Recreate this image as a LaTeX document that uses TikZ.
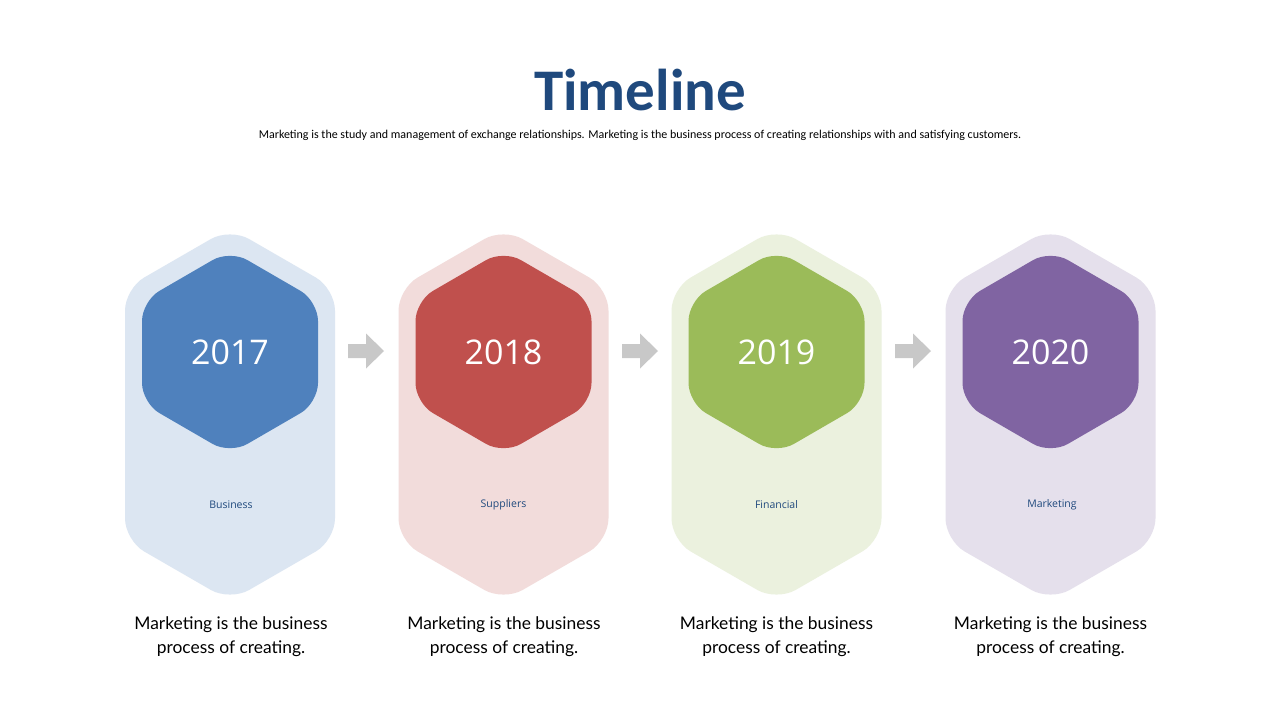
\documentclass[tikz,border=0pt]{standalone}
\usepackage{fontspec}
\setmainfont{Carlito}
\newfontfamily\latofont{Lato}
\newfontfamily\yearfont{Open Sans}
\definecolor{titleblue}{RGB}{31,73,125}
\definecolor{labelblue}{RGB}{31,73,125}
\definecolor{cA}{RGB}{79,129,189}
\definecolor{cAl}{RGB}{220,230,242}
\definecolor{cB}{RGB}{192,80,77}
\definecolor{cBl}{RGB}{242,220,219}
\definecolor{cC}{RGB}{155,187,89}
\definecolor{cCl}{RGB}{235,241,222}
\definecolor{cD}{RGB}{128,100,162}
\definecolor{cDl}{RGB}{229,224,236}
\definecolor{arrowgray}{RGB}{200,200,200}
\tikzset{
  yeartext/.style={text=white,font=\yearfont\fontsize{34}{38}\selectfont,inner sep=0},
  labeltext/.style={text=labelblue,font=\yearfont\fontsize{10.5}{12}\selectfont,inner sep=0},
  desctext/.style={text=black,font=\latofont\fontsize{17.4}{24}\selectfont,align=center,inner sep=0},
  blockarrow/.style={fill=arrowgray}
}
\newcommand{\outerhex}[2]{%
  \fill[#2,rounded corners=22pt] (#1-105,420) -- (#1-105,288.6) -- (#1,228) -- (#1+105,288.6)
    -- (#1+105,540.4) -- (#1,601) -- (#1-105,540.4) -- cycle;}
\newcommand{\innerhex}[2]{%
  \fill[#2,rounded corners=20pt] (#1-88,352) -- (#1-88,301) -- (#1,250) -- (#1+88,301)
    -- (#1+88,403) -- (#1,454) -- (#1-88,403) -- cycle;}
\newcommand{\blockarr}[2]{%
  \fill[blockarrow] (#1-18,#2-7) -- (#1,#2-7) -- (#1,#2-17.5) -- (#1+18,#2) -- (#1,#2+17.5)
    -- (#1,#2+7) -- (#1-18,#2+7) -- cycle;}
\begin{document}
\begin{tikzpicture}[x=1pt,y=-1pt]
\useasboundingbox (0,0) rectangle (1280,720);
\fill[white] (0,0) rectangle (1280,720);
\node[text=titleblue,font=\bfseries\fontsize{59}{62}\selectfont,inner sep=0] (title) at (640,90) {Timeline};
\node[font=\fontsize{12}{14}\selectfont,inner sep=0] (subtitle) at (640,135.5) {Marketing is the study and management of exchange relationships. Marketing is the business process of creating relationships with and satisfying customers.};
\outerhex{230}{cAl}
\outerhex{503.5}{cBl}
\outerhex{776.5}{cCl}
\outerhex{1050.5}{cDl}
\innerhex{230}{cA}
\innerhex{503.5}{cB}
\innerhex{776.5}{cC}
\innerhex{1050.5}{cD}
\node[yeartext] (y1) at (230,352) {2017};
\node[yeartext] (y2) at (503.5,352) {2018};
\node[yeartext] (y3) at (776.5,352) {2019};
\node[yeartext] (y4) at (1050.5,352) {2020};
\node[labeltext] (l1) at (231,505) {Business};
\node[labeltext] (l2) at (503.5,505) {Suppliers};
\node[labeltext] (l3) at (776.5,505) {Financial};
\node[labeltext] (l4) at (1052,505) {Marketing};
\node[desctext] (d1) at (231,636.5) {Marketing is the business\\process of creating.};
\node[desctext] (d2) at (504,636.5) {Marketing is the business\\process of creating.};
\node[desctext] (d3) at (776.5,636.5) {Marketing is the business\\process of creating.};
\node[desctext] (d4) at (1050.5,636.5) {Marketing is the business\\process of creating.};
\blockarr{366}{351}
\blockarr{640}{351}
\blockarr{913}{351}
\end{tikzpicture}
\end{document}
